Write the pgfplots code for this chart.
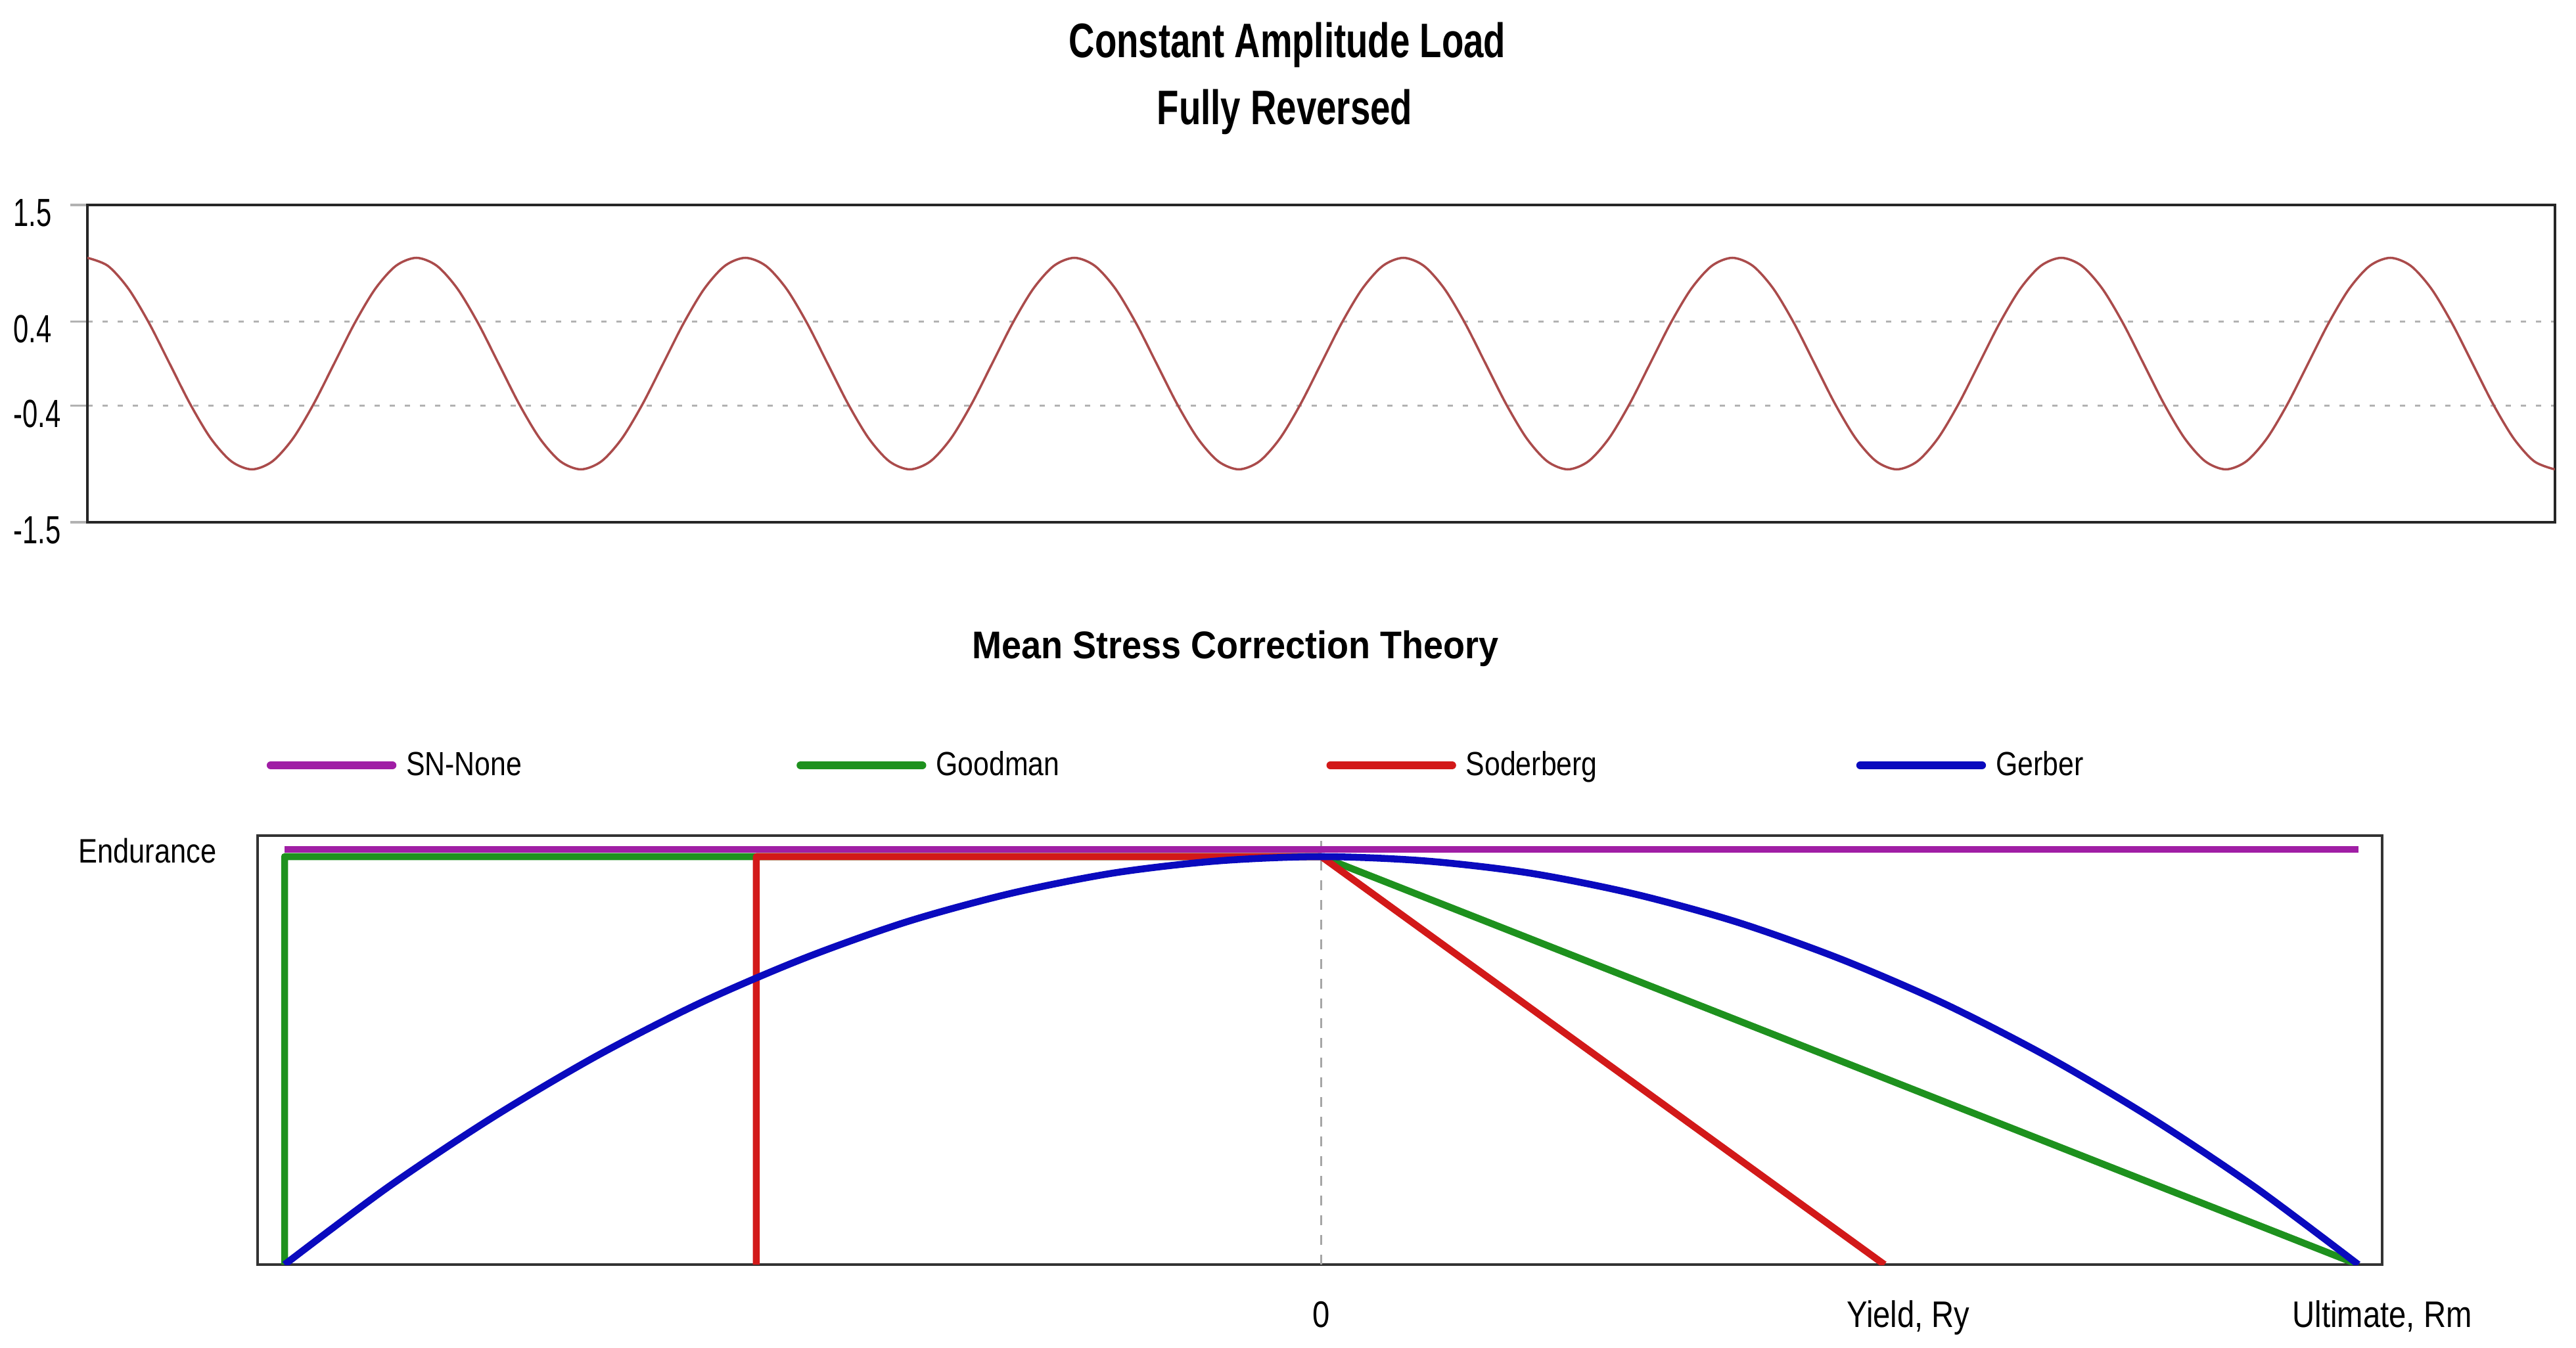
\documentclass[border=0pt]{standalone}
\usepackage{fontspec}
\setmainfont{Liberation Sans}
\newfontfamily\ttlfont[FakeStretch=0.74]{Liberation Sans}
\newfontfamily\subfont[FakeStretch=0.92]{Liberation Sans}
\newfontfamily\lblfont[FakeStretch=0.84]{Liberation Sans}
\newfontfamily\tickfont[FakeStretch=0.70]{Liberation Sans}
\usepackage{pgfplots}
\pgfplotsset{compat=1.18}

\definecolor{snnone}{RGB}{160,30,165}
\definecolor{goodman}{RGB}{30,145,30}
\definecolor{soder}{RGB}{210,25,25}
\definecolor{gerber}{RGB}{10,10,190}
\definecolor{load}{RGB}{170,75,75}

\newcommand\tickfnt{\tickfont\fontsize{17}{20}\selectfont}
\newcommand\legfnt{\lblfont\fontsize{14.5}{17}\selectfont}
\newcommand\sefnt{\lblfont\fontsize{14.7}{17}\selectfont}
\newcommand\xlblfnt{\lblfont\fontsize{16}{19}\selectfont}

\begin{document}
\begin{tikzpicture}
\useasboundingbox (0,0) rectangle (392mm,205.1mm);

% titles
\node[anchor=base, inner sep=0pt] at (195.9mm,196.3mm) {\ttlfont\bfseries\fontsize{21}{25}\selectfont Constant Amplitude Load};
\node[anchor=base, inner sep=0pt] at (195.5mm,186.1mm) {\ttlfont\bfseries\fontsize{21}{25}\selectfont Fully Reversed};
\node[anchor=base, inner sep=0pt] at (188.0mm,104.9mm) {\subfont\bfseries\fontsize{16.7}{20}\selectfont Mean Stress Correction Theory};

% load history
\begin{axis}[
    at={(13.3mm,125.6mm)}, anchor=south west,
    scale only axis, width=375.5mm, height=48.3mm,
    xmin=0, xmax=7.5, ymin=-1.5, ymax=1.5,
    xtick=\empty,
    ytick={-1.5,-0.4,0.4,1.5},
    yticklabels={-1.5,-0.4,0.4,1.5},
    ytick pos=left, tick align=outside,
    major tick length=2.6mm,
    tick style={gray!60, line width=0.9pt},
    ymajorgrids,
    grid style={gray!60, line width=0.9pt, dash pattern=on 0.8mm off 1.5mm},
    axis line style={black!85, line width=1.2pt},
    yticklabel style={font=\tickfnt, anchor=west, inner sep=0pt, xshift=-8.7mm, yshift=-1.2mm},
]
\addplot[load, line width=1pt, smooth] coordinates {
(0,1) (0.0625,0.9239) (0.125,0.7071) (0.1875,0.3827) (0.25,0) (0.3125,-0.3827) (0.375,-0.7071) (0.4375,-0.9239)
(0.5,-1) (0.5625,-0.9239) (0.625,-0.7071) (0.6875,-0.3827) (0.75,0) (0.8125,0.3827) (0.875,0.7071) (0.9375,0.9239)
(1,1) (1.0625,0.9239) (1.125,0.7071) (1.1875,0.3827) (1.25,0) (1.3125,-0.3827) (1.375,-0.7071) (1.4375,-0.9239)
(1.5,-1) (1.5625,-0.9239) (1.625,-0.7071) (1.6875,-0.3827) (1.75,0) (1.8125,0.3827) (1.875,0.7071) (1.9375,0.9239)
(2,1) (2.0625,0.9239) (2.125,0.7071) (2.1875,0.3827) (2.25,0) (2.3125,-0.3827) (2.375,-0.7071) (2.4375,-0.9239)
(2.5,-1) (2.5625,-0.9239) (2.625,-0.7071) (2.6875,-0.3827) (2.75,0) (2.8125,0.3827) (2.875,0.7071) (2.9375,0.9239)
(3,1) (3.0625,0.9239) (3.125,0.7071) (3.1875,0.3827) (3.25,0) (3.3125,-0.3827) (3.375,-0.7071) (3.4375,-0.9239)
(3.5,-1) (3.5625,-0.9239) (3.625,-0.7071) (3.6875,-0.3827) (3.75,0) (3.8125,0.3827) (3.875,0.7071) (3.9375,0.9239)
(4,1) (4.0625,0.9239) (4.125,0.7071) (4.1875,0.3827) (4.25,0) (4.3125,-0.3827) (4.375,-0.7071) (4.4375,-0.9239)
(4.5,-1) (4.5625,-0.9239) (4.625,-0.7071) (4.6875,-0.3827) (4.75,0) (4.8125,0.3827) (4.875,0.7071) (4.9375,0.9239)
(5,1) (5.0625,0.9239) (5.125,0.7071) (5.1875,0.3827) (5.25,0) (5.3125,-0.3827) (5.375,-0.7071) (5.4375,-0.9239)
(5.5,-1) (5.5625,-0.9239) (5.625,-0.7071) (5.6875,-0.3827) (5.75,0) (5.8125,0.3827) (5.875,0.7071) (5.9375,0.9239)
(6,1) (6.0625,0.9239) (6.125,0.7071) (6.1875,0.3827) (6.25,0) (6.3125,-0.3827) (6.375,-0.7071) (6.4375,-0.9239)
(6.5,-1) (6.5625,-0.9239) (6.625,-0.7071) (6.6875,-0.3827) (6.75,0) (6.8125,0.3827) (6.875,0.7071) (6.9375,0.9239)
(7,1) (7.0625,0.9239) (7.125,0.7071) (7.1875,0.3827) (7.25,0) (7.3125,-0.3827) (7.375,-0.7071) (7.4375,-0.9239)
(7.5,-1)
};
\end{axis}

% mean stress correction
\begin{axis}[
    at={(39.2mm,12.6mm)}, anchor=south west,
    scale only axis, width=323.3mm, height=65.3mm,
    xmin=-1.026, xmax=1.023, ymin=0, ymax=1,
    xtick={0,0.566,1.023},
    xticklabels={0,{Yield, Ry},{Ultimate, Rm}},
    ytick={0.968}, yticklabels={Endurance},
    major tick length=0pt,
    axis line style={black!80, line width=1pt},
    xticklabel style={font=\xlblfnt, anchor=base, inner sep=0pt, yshift=-9.5mm},
    yticklabel style={font=\sefnt, anchor=base east, inner sep=0pt, xshift=-6.2mm, yshift=-2.1mm},
    every axis plot/.append style={line width=3pt, line join=round},
    legend columns=4,
    legend style={draw=none, fill=none, inner sep=0pt, outer sep=0pt,
        at={(0.0043,1.1639)}, anchor=west, font=\legfnt,
        nodes={inner sep=0pt},
        /tikz/every odd column/.append style={column sep=1.5mm},
        /tikz/every even column/.append style={column sep=0mm}},
    legend image code/.code={\draw[#1, line width=3.5pt, line cap=round] (0mm,0mm) -- (18.5mm,0mm);},
]
\addplot[gray!70, line width=0.8pt, dash pattern=on 1.5mm off 1.5mm, forget plot] coordinates {(0,0) (0,1)};
\addplot[snnone] coordinates {(-1,0.968) (1,0.968)};
\addlegendentry{\makebox[59.4mm][l]{SN-None}}
\addplot[goodman] coordinates {(-1,0) (-1,0.951) (0,0.951) (1,0)};
\addlegendentry{\makebox[59.4mm][l]{Goodman}}
\addplot[soder] coordinates {(-0.545,0) (-0.545,0.951) (0,0.951) (0.543,0)};
\addlegendentry{\makebox[59.4mm][l]{Soderberg}}
\addplot[gerber, smooth] coordinates {
(-1,0) (-0.9,0.181) (-0.8,0.342) (-0.7,0.485) (-0.6,0.609) (-0.5,0.713) (-0.4,0.799) (-0.3,0.865) (-0.2,0.913) (-0.1,0.941)
(0,0.951) (0.1,0.941) (0.2,0.913) (0.3,0.865) (0.4,0.799) (0.5,0.713) (0.6,0.609) (0.7,0.485) (0.8,0.342) (0.9,0.181) (1,0)
};
\addlegendentry{\makebox[59.4mm][l]{Gerber}}
\end{axis}
\end{tikzpicture}
\end{document}
